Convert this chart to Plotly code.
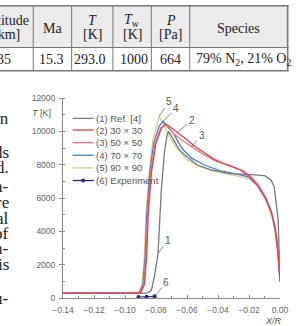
import plotly.graph_objects as go

# ---------------- data ----------------
ref1_x = [-0.14, -0.086, -0.083, -0.081, -0.0787, -0.0775, -0.0765, -0.0745, -0.073, -0.0719, -0.069, -0.065,
          -0.0613, -0.0533, -0.0446, -0.0322, -0.018, -0.0099, -0.0056, -0.0037, -0.0012, -0.0005, 0.0]
ref1_T = [293, 293, 450, 1300, 2680, 4700, 6600, 8800, 9700, 10000, 9500, 8900,
          8560, 7980, 7690, 7460, 7400, 7340, 7050, 6640, 4720, 2740, 1000]

g30_x = [-0.14, -0.090, -0.0875, -0.086, -0.085, -0.083, -0.080, -0.0765, -0.0737, -0.070, -0.066, -0.060,
         -0.055, -0.049, -0.043, -0.037, -0.031, -0.025, -0.020, -0.015, -0.010, -0.006, -0.003, -0.0015, 0.0]
g30_T = [293, 293, 800, 2500, 5000, 7500, 9300, 10200, 10450, 10200, 9950, 9500,
         9100, 8700, 8350, 8100, 7900, 7650, 7300, 6800, 6100, 5300, 4200, 3000, 1000]

g50_x = [-0.14, -0.0905, -0.088, -0.0865, -0.0855, -0.0835, -0.0805, -0.077, -0.0737, -0.070, -0.066, -0.061,
         -0.057, -0.050, -0.041, -0.033, -0.024, -0.019, -0.014, -0.009, -0.005, -0.0025, -0.001, 0.0]
g50_T = [293, 293, 800, 2500, 5000, 7500, 9300, 10200, 10400, 10000, 9650, 9350,
         9100, 8650, 8200, 7950, 7650, 7300, 6800, 6000, 5000, 3800, 2500, 1000]

g70_x = [-0.14, -0.091, -0.0885, -0.087, -0.086, -0.084, -0.0815, -0.078, -0.0755, -0.0725, -0.0694, -0.0632,
         -0.057, -0.0489, -0.0384, -0.026, -0.020, -0.014, -0.009, -0.005, -0.003, -0.0015, 0.0]
g70_T = [293, 293, 800, 2500, 5000, 7500, 9300, 10300, 10600, 10300, 9960, 8970,
         8390, 7980, 7630, 7400, 7250, 6700, 5900, 5000, 4000, 2800, 1000]

g90_x = [-0.14, -0.0915, -0.089, -0.0875, -0.0865, -0.0845, -0.082, -0.0795, -0.078, -0.075, -0.071, -0.066,
         -0.060, -0.052, -0.044, -0.035, -0.026, -0.019, -0.014, -0.009, -0.005, -0.0025, -0.001, 0.0]
g90_T = [293, 293, 800, 2500, 5000, 7500, 9500, 10500, 10900, 10400, 9600, 8900,
         8300, 7900, 7650, 7450, 7300, 7100, 6700, 5900, 4800, 3500, 2300, 1000]

exp_x = [-0.0913, -0.0861, -0.0810]
exp_T = [60, 80, 100]

legend_labels = ["(1) Ref. [4]", "(2) 30 \u00d7 30", "(3) 50 \u00d7 50", "(4) 70 \u00d7 70",
                 "(5) 90 \u00d7 90", "(6) Experiment"]
colors = ["#6f7d80", "#e0404c", "#f07486", "#4d80c8", "#d8cf8c", "#1f2a7a"]

y_ticks = [0, 2000, 4000, 6000, 8000, 10000, 12000]
x_ticks = [-0.14, -0.12, -0.10, -0.08, -0.06, -0.04, -0.02, 0.0]

table_head = ["Altitude", "Ma", "<i>T</i>", "<i>T</i><sub>w</sub>", "<i>P</i>", "Species"]
table_unit = ["[km]", "", "[K]", "[K]", "[Pa]", ""]
table_row = ["35", "15.3", "293.0", "1000", "664", "79% N<sub>2</sub>, 21% O<sub>2</sub>"]

side_text = ["rn", "ds", "d.", "a-", "re", "al", "of", "n-", "is", "u-"]

# ---------------- layout geometry ----------------
W, H = 300, 326
L, R, T, B = 63, 11, 98, 22
PW, PH = W - L - R, H - T - B


def px(x):
    return (x - L) / PW


def py(y):
    return (H - B - y) / PH


fig = go.Figure()
order = [(4, g90_x, g90_T), (3, g70_x, g70_T), (0, ref1_x, ref1_T), (2, g50_x, g50_T), (1, g30_x, g30_T)]
for ci, xs, ts in order:
    fig.add_trace(go.Scatter(x=xs, y=ts, mode="lines", line=dict(color=colors[ci], width=1.3),
                             showlegend=False, hoverinfo="skip"))
fig.add_trace(go.Scatter(x=exp_x, y=exp_T, mode="lines+markers", line=dict(color=colors[5], width=1.2),
                         marker=dict(size=4, color=colors[5]), showlegend=False, hoverinfo="skip"))

shapes = []
ann = []
serif = "Liberation Serif"
sans = "Liberation Sans"

# ---------- table ----------
shapes.append(dict(type="rect", xref="paper", yref="paper", x0=px(-5), x1=px(297), y0=py(46), y1=py(3),
                   fillcolor="#ebebeb", line=dict(width=0), layer="below"))
for yy, wd in [(3, 1.6), (46, 1.0), (70, 1.6)]:
    shapes.append(dict(type="line", xref="paper", yref="paper", x0=px(-5), x1=px(298), y0=py(yy), y1=py(yy),
                       line=dict(color="#777777", width=wd)))
for xx, wd in [(32, 1), (72, 1), (115, 1), (155, 1), (195, 1), (297, 1.6)]:
    shapes.append(dict(type="line", xref="paper", yref="paper", x0=px(xx), x1=px(xx), y0=py(3), y1=py(70),
                       line=dict(color="#777777", width=wd)))

col_cx = [4, 52, 93.5, 135, 175, 246]
row_cx = [2, 51, 91, 137, 175]
for i, cx in enumerate(col_cx):
    if table_unit[i]:
        ann.append(dict(x=px(cx), y=py(18), text=table_head[i]))
        ann.append(dict(x=px(cx), y=py(33), text=table_unit[i]))
    else:
        ann.append(dict(x=px(cx), y=py(26), text=table_head[i]))
for i, cx in enumerate(row_cx):
    ann.append(dict(x=px(cx), y=py(58), text=table_row[i]))
ann.append(dict(x=px(199), y=py(58), text=table_row[5], xanchor="left"))
for a in ann:
    a.update(xref="paper", yref="paper", showarrow=False, yanchor="middle",
             font=dict(family=serif, size=14, color="#222222"))
    a.setdefault("xanchor", "center")

# ---------- side text ----------
side_y = [119, 154, 170, 189, 206, 222, 238, 253, 269, 304]
for s, yy in zip(side_text, side_y):
    ann.append(dict(xref="paper", yref="paper", x=px(9), y=py(yy), text=s, showarrow=False,
                    xanchor="right", yanchor="middle", font=dict(family=serif, size=17, color="#222222")))

# ---------- legend ----------
leg_y = [119, 131, 144, 157, 170, 183]
for i, (lab, yy) in enumerate(zip(legend_labels, leg_y)):
    shapes.append(dict(type="line", xref="paper", yref="paper", x0=px(73), x1=px(95), y0=py(yy), y1=py(yy),
                       line=dict(color=colors[i], width=1.3)))
    ann.append(dict(xref="paper", yref="paper", x=px(95), y=py(yy), text=lab, showarrow=False,
                    xanchor="left", yanchor="middle", font=dict(family=sans, size=9.5, color="#555555")))
r = 2
shapes.append(dict(type="circle", xref="paper", yref="paper", x0=px(84 - r), x1=px(84 + r),
                   y0=py(183 + r), y1=py(183 - r), fillcolor=colors[5], line=dict(width=0)))

# axis titles
ann.append(dict(xref="paper", yref="paper", x=px(41), y=py(113), text="<i>T</i> [K]", showarrow=False,
                xanchor="center", yanchor="middle", font=dict(family=sans, size=9, color="#555555")))
ann.append(dict(xref="paper", yref="paper", x=px(282), y=py(320), text="<i>X/R</i>", showarrow=False,
                xanchor="center", yanchor="top", font=dict(family=sans, size=9, color="#555555")))

# ---------- curve labels ----------
lab_specs = [("5", g90_x, g90_T, 8, 10, -15), ("4", g70_x, g70_T, 8, 13, -13),
             ("2", g30_x, g30_T, 10, 14, -12), ("3", g50_x, g50_T, 12, 10, -11),
             ("1", ref1_x, ref1_T, 4, 10, -13), ("6", exp_x, exp_T, 2, 12, -14)]
for t, xs, ts, idx, dx, dy in lab_specs:
    ann.append(dict(x=xs[idx], y=ts[idx], xref="x", yref="y", text=t, showarrow=True, arrowhead=0,
                    arrowwidth=0.8, arrowcolor="#666666", ax=dx, ay=dy, standoff=0,
                    font=dict(family=sans, size=10, color="#555555")))

axis_common = dict(showgrid=False, zeroline=False, showline=True, linecolor="#888888", linewidth=1,
                   tickcolor="#888888", tickfont=dict(family=sans, size=8.5, color="#666666"))
fig.update_layout(
    width=W, height=H, margin=dict(l=L, r=R, t=T, b=B, pad=0),
    paper_bgcolor="white", plot_bgcolor="white",
    xaxis=dict(range=[-0.14, 0.0], tickvals=x_ticks, tickformat=".2f", ticks="inside", ticklen=3,
               ticklabelstandoff=4,
               minor=dict(dtick=0.01, tick0=0, ticks="inside", ticklen=2, tickcolor="#888888"),
               **axis_common),
    yaxis=dict(range=[0, 12000], tickvals=y_ticks, tickformat="d", ticks="outside", ticklen=3,
               ticklabelstandoff=2,
               minor=dict(dtick=1000, tick0=0, ticks="inside", ticklen=2, tickcolor="#888888"),
               **axis_common),
    shapes=shapes, annotations=ann,
)
fig.write_html("out.html")
